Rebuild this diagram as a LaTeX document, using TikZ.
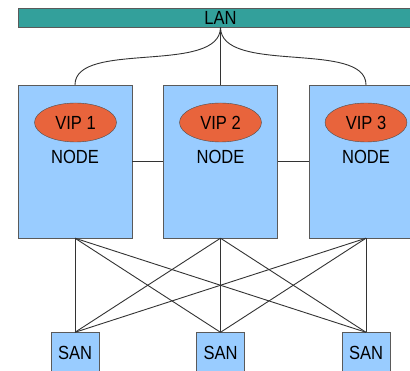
\documentclass[tikz,border=0pt]{standalone}
\usepackage{fontspec}
\newfontfamily\diafont{Liberation Sans}[FakeStretch=0.87]
\usetikzlibrary{positioning}
\usetikzlibrary{shapes.geometric}

\definecolor{lanteal}{RGB}{51,160,155}
\definecolor{boxblue}{RGB}{153,204,255}
\definecolor{vipred}{RGB}{232,100,60}
\definecolor{edgegrey}{RGB}{90,90,90}

\begin{document}
\begin{tikzpicture}[x=1pt, y=-1pt,
    every node/.style={font=\diafont\fontsize{19}{21}\selectfont, inner sep=0pt},
    lanbar/.style={draw=edgegrey, fill=lanteal, minimum width=405pt, minimum height=19pt},
    nodebox/.style={draw=edgegrey, fill=boxblue, minimum width=114pt, minimum height=153pt},
    vip/.style={ellipse, draw=black!70, fill=vipred, minimum width=82pt, minimum height=39pt},
    sanbox/.style={draw=edgegrey, fill=boxblue, minimum width=48pt, minimum height=41pt},
    link/.style={draw=black!80, line width=0.9pt}]

    \useasboundingbox (0,0) rectangle (410,371);
    \clip (0,0) rectangle (410,371);

    \node[lanbar] (lan) at (220.5,17.5) {LAN};

    \node[nodebox] (n1) at (75,161.5) {};
    \node[nodebox] (n2) at (220.5,161.5) {};
    \node[nodebox] (n3) at (366,161.5) {};

    \node[vip] (v1) at (75.5,122.5) {VIP 1};
    \node[vip] (v2) at (220.5,122.5) {VIP 2};
    \node[vip] (v3) at (366,122.5) {VIP 3};

    \node (t1) at (75,157) {NODE};
    \node (t2) at (220.5,157) {NODE};
    \node (t3) at (366,157) {NODE};

    \node[sanbox] (s1) at (75,353) {SAN};
    \node[sanbox] (s2) at (220.5,353) {SAN};
    \node[sanbox] (s3) at (366,353) {SAN};

    % LAN to the nodes
    \draw[link] (lan.south) -- (n2.north);
    \draw[link] (lan.south) .. controls (220.5,75) and (75,40) .. (n1.north);
    \draw[link] (lan.south) .. controls (220.5,75) and (366,40) .. (n3.north);

    % heartbeat between the nodes
    \draw[link] (n1.east) -- (n2.west);
    \draw[link] (n2.east) -- (n3.west);

    % every node to every SAN
    \foreach \i in {1,2,3}
      \foreach \j in {1,2,3}
        \draw[link] (n\i.south) -- (s\j.north);

\end{tikzpicture}
\end{document}
